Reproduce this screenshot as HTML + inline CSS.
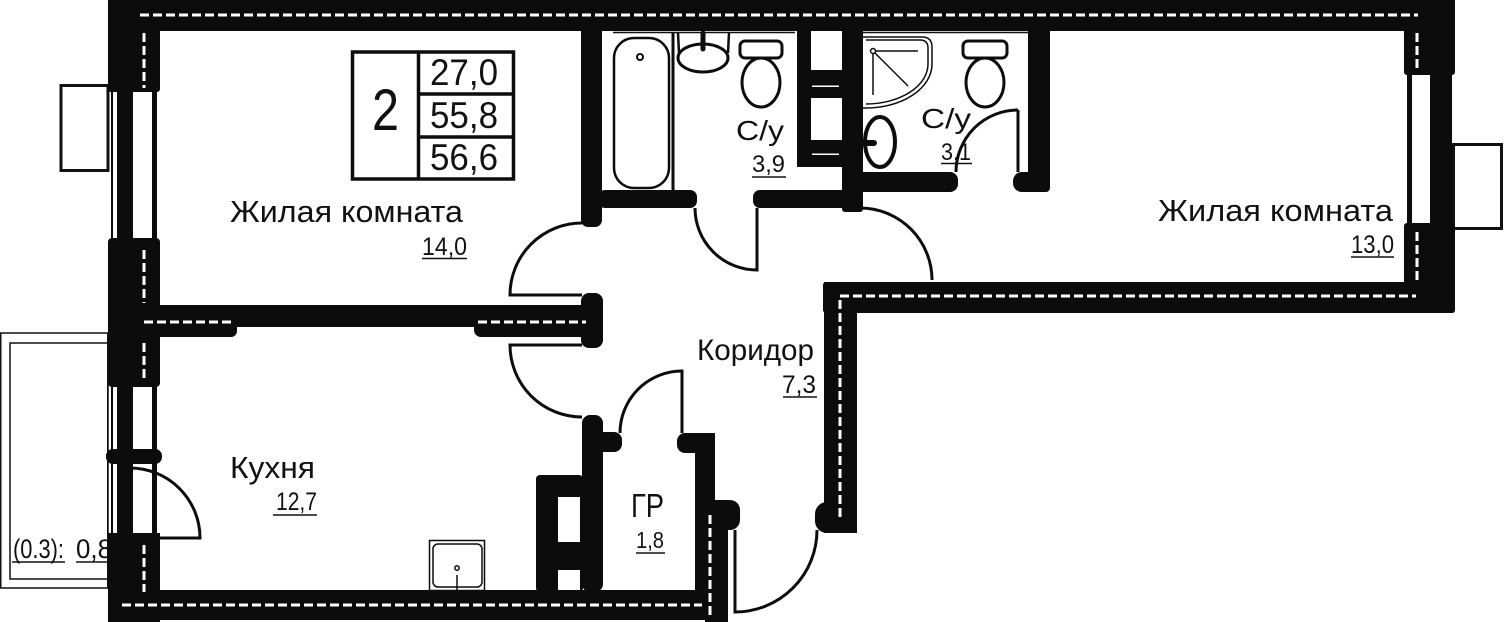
<!DOCTYPE html>
<html><head><meta charset="utf-8">
<style>
html,body{margin:0;padding:0;background:#fff;}
svg{display:block}
text{font-family:"Liberation Sans","DejaVu Sans",sans-serif;fill:#111;}
</style></head><body>
<svg width="1504" height="622" viewBox="0 0 1504 622" xmlns="http://www.w3.org/2000/svg">
<rect width="1504" height="622" fill="#fff"/>

<!-- balcony -->
<g fill="none" stroke="#111" stroke-width="1.5">
<rect x="0.75" y="333" width="107" height="255"/>
<rect x="10" y="343" width="98" height="236"/>
</g>
<!-- window sills -->
<g fill="none" stroke="#111" stroke-width="3">
<rect x="61" y="85.5" width="47" height="85"/>
<rect x="1453.5" y="144.5" width="48" height="84"/>
</g>

<!-- texts (drawn under walls) -->
<g>
<text x="13" y="558" font-size="27" textLength="51" lengthAdjust="spacingAndGlyphs">(0.3):</text>
<text x="76" y="558" font-size="27" textLength="36" lengthAdjust="spacingAndGlyphs">0,8</text>
</g>
<g stroke="#111" stroke-width="1.5">
<line x1="12" y1="562" x2="65" y2="562"/>
<line x1="76" y1="562" x2="108" y2="562"/>
</g>

<!-- walls -->
<g fill="#0c0c0c">
<!-- top wall -->
<rect x="108" y="0" width="1347" height="31"/>
<!-- left wall -->
<rect x="108" y="0" width="52" height="92" rx="3"/>
<rect x="108" y="238" width="52" height="149" rx="4"/>
<rect x="108" y="533" width="52" height="89"/>
<rect x="106" y="449" width="56" height="15" rx="7"/>
<!-- left window frames -->
<rect x="111" y="92" width="2" height="146"/>
<rect x="117" y="92" width="16" height="146"/>
<rect x="152" y="92" width="5" height="146"/>
<rect x="111" y="387" width="2" height="146"/>
<rect x="117" y="387" width="16" height="146"/>
<rect x="152" y="387" width="5" height="146"/>
<!-- bottom wall -->
<rect x="108" y="590" width="620" height="30"/>
<!-- right wall -->
<rect x="1404" y="0" width="51" height="75" rx="3"/>
<rect x="1404" y="223" width="51" height="90" rx="3"/>
<rect x="1407" y="75" width="5" height="148"/>
<rect x="1430" y="75" width="22" height="148"/>
<!-- right room bottom wall -->
<rect x="823" y="282" width="632" height="31" rx="3"/>
<!-- corridor wall -->
<rect x="824" y="282" width="33" height="251"/>
<rect x="815" y="502" width="40" height="31" rx="12"/>
<!-- living / bath partition -->
<rect x="581" y="20" width="21" height="207" rx="7"/>
<rect x="581" y="293" width="22" height="55" rx="8"/>
<!-- living / kitchen wall -->
<rect x="155" y="305" width="430" height="22"/>
<rect x="140" y="305" width="97" height="32" rx="6"/>
<rect x="474" y="305" width="116" height="32" rx="7"/>
<!-- kitchen / GR wall -->
<rect x="582" y="415" width="21" height="177" rx="8"/>
<rect x="595" y="432" width="27" height="20" rx="8"/>
<!-- kitchen shaft -->
<rect x="536" y="475" width="47" height="117" rx="4"/>
<!-- GR right wall -->
<rect x="677" y="433" width="38" height="20" rx="8"/>
<rect x="695" y="433" width="20" height="164"/>
<rect x="705" y="500" width="35" height="30" rx="10"/>
<rect x="705" y="500" width="23" height="122"/>
<!-- bathroom bottom walls -->
<rect x="598" y="190" width="99" height="18" rx="7"/>
<rect x="753" y="190" width="110" height="18" rx="7"/>
<rect x="842" y="0" width="21" height="212" rx="3"/>
<!-- shaft between bathrooms -->
<rect x="797" y="31" width="14" height="136"/>
<rect x="797" y="70" width="46" height="28"/>
<rect x="797" y="140" width="46" height="27"/>
<!-- toilet 2 walls -->
<rect x="842" y="172" width="116" height="20" rx="8"/>
<rect x="1028" y="20" width="22" height="172" rx="4"/>
<rect x="1013" y="172" width="37" height="20" rx="9"/>
</g>

<!-- white details inside walls -->
<g fill="#fff">
<rect x="558" y="497" width="22" height="45"/>
<rect x="558" y="570" width="22" height="20"/>
<rect x="812" y="85.5" width="27" height="1.5"/>
<rect x="812" y="153.5" width="27" height="1.5"/>
</g>
<g stroke="#fff" stroke-width="3" stroke-dasharray="9 4" fill="none">
<line x1="140" y1="15" x2="1418" y2="15"/>
<line x1="144" y1="33" x2="144" y2="88"/>
<line x1="144" y1="250" x2="144" y2="303"/>
<line x1="144" y1="343" x2="144" y2="380"/>
<line x1="144" y1="545" x2="144" y2="592"/>
<line x1="1417" y1="33" x2="1417" y2="70"/>
<line x1="1417" y1="232" x2="1417" y2="280"/>
<line x1="840" y1="296" x2="1416" y2="296"/>
<line x1="840" y1="300" x2="840" y2="520"/>
<line x1="144" y1="322" x2="232" y2="322"/>
<line x1="478" y1="322" x2="586" y2="322"/>
<line x1="122" y1="605" x2="702" y2="605"/>
<line x1="710" y1="515" x2="710" y2="615"/>
</g>

<!-- thin lines below top wall -->
<g stroke="#111" stroke-width="1.5">
<line x1="613" y1="32.5" x2="795" y2="32.5"/>
<line x1="863" y1="32.5" x2="1028" y2="32.5"/>
</g>

<!-- doors -->
<g fill="none" stroke="#0c0c0c" stroke-width="3">
<path d="M582,223 A72,72 0 0 0 510,295 L582,295"/>
<path d="M582,417 A72,72 0 0 1 510,345 L582,345"/>
<path d="M695,208 A62,62 0 0 0 757,270 L757,208"/>
<path d="M1018,110 A62,62 0 0 0 956,172"/>
<path d="M1018,110 L1018,172"/>
<path d="M860,208 A72,72 0 0 1 932,280"/>
<path d="M682,433 L682,371 A62,62 0 0 0 620,433"/>
<path d="M735,530 L735,612 A82,82 0 0 0 817,530"/>
<path d="M130,468 A70,70 0 0 1 200,538 L130,538"/>
</g>

<!-- bathroom fixtures -->
<g fill="none" stroke="#0c0c0c">
<rect x="614" y="38" width="55" height="150" rx="20" stroke-width="2.5"/>
<circle cx="640" cy="57" r="3" stroke-width="2"/>
<line x1="673" y1="33" x2="673" y2="190" stroke-width="3"/>
<ellipse cx="703" cy="58" rx="25" ry="14" stroke-width="3"/>
<path d="M678,33 L679,53 M729,33 L728,53" stroke-width="2.5"/>
<line x1="703" y1="33" x2="703" y2="49" stroke-width="5" stroke-linecap="round"/>
<rect x="740" y="41" width="42" height="17" rx="5" stroke-width="3"/>
<ellipse cx="761" cy="82.5" rx="19" ry="24.5" stroke-width="3"/>
<rect x="963" y="41" width="44" height="17" rx="5" stroke-width="3"/>
<ellipse cx="985" cy="82.5" rx="19" ry="24.5" stroke-width="3"/>
<ellipse cx="880" cy="142" rx="15" ry="25" stroke-width="4"/>
<line x1="863" y1="143" x2="874" y2="143" stroke-width="6" stroke-linecap="round"/>
<path d="M863,37 H922 Q932,37 932,47 V64 A66,44 0 0 1 866,108 H863" stroke-width="1.5"/>
<path d="M866,40 H920 Q928,40 928,48 V64 A62,40 0 0 1 866,104" stroke-width="1.5"/>
<circle cx="873" cy="51" r="2.5" stroke-width="1.5"/>
<line x1="876" y1="51" x2="918" y2="51" stroke-width="1.5"/>
<line x1="873" y1="54" x2="873" y2="95" stroke-width="1.5"/>
<line x1="875" y1="53" x2="908" y2="86" stroke-width="1.5"/>
<!-- kitchen sink -->
<rect x="429.5" y="540.5" width="55" height="50" stroke-width="1.5"/>
<rect x="433" y="544" width="49" height="43" rx="5" stroke-width="1.5"/>
<circle cx="457" cy="568" r="2.2" stroke-width="1.5"/>
<line x1="457" y1="575" x2="457" y2="590" stroke-width="1.5"/>
</g>

<!-- apartment box -->
<g fill="none" stroke="#0c0c0c" stroke-width="3.5">
<rect x="352.5" y="52" width="161" height="127"/>
<line x1="418.5" y1="52" x2="418.5" y2="179"/>
<line x1="418.5" y1="94" x2="513.5" y2="94"/>
<line x1="418.5" y1="137" x2="513.5" y2="137"/>
</g>

<!-- labels -->
<g>
<text x="372" y="130" font-size="58" textLength="27" lengthAdjust="spacingAndGlyphs">2</text>
<text x="430" y="85" font-size="37" textLength="68" lengthAdjust="spacingAndGlyphs">27,0</text>
<text x="430" y="128" font-size="37" textLength="68" lengthAdjust="spacingAndGlyphs">55,8</text>
<text x="430" y="170" font-size="37" textLength="68" lengthAdjust="spacingAndGlyphs">56,6</text>
<text x="230" y="222" font-size="31" textLength="233" lengthAdjust="spacingAndGlyphs">Жилая комната</text>
<text x="422" y="255" font-size="25" textLength="45" lengthAdjust="spacingAndGlyphs">14,0</text>
<text x="1158" y="221" font-size="31" textLength="235" lengthAdjust="spacingAndGlyphs">Жилая комната</text>
<text x="1351" y="253" font-size="25" textLength="43" lengthAdjust="spacingAndGlyphs">13,0</text>
<text x="736" y="140" font-size="28" textLength="48" lengthAdjust="spacingAndGlyphs">С/у</text>
<text x="752" y="172" font-size="24" textLength="33" lengthAdjust="spacingAndGlyphs">3,9</text>
<text x="921" y="128" font-size="28" textLength="50" lengthAdjust="spacingAndGlyphs">С/у</text>
<text x="941" y="160" font-size="24" textLength="30" lengthAdjust="spacingAndGlyphs">3,1</text>
<text x="697" y="360" font-size="30" textLength="117" lengthAdjust="spacingAndGlyphs">Коридор</text>
<text x="782" y="393" font-size="25" textLength="34" lengthAdjust="spacingAndGlyphs">7,3</text>
<text x="631" y="517" font-size="33" textLength="33" lengthAdjust="spacingAndGlyphs">ГР</text>
<text x="636" y="548" font-size="23" textLength="28" lengthAdjust="spacingAndGlyphs">1,8</text>
<text x="230" y="478" font-size="31" textLength="85" lengthAdjust="spacingAndGlyphs">Кухня</text>
<text x="276" y="510" font-size="25" textLength="41" lengthAdjust="spacingAndGlyphs">12,7</text>
</g>
<g stroke="#111" stroke-width="1.5">
<line x1="422" y1="258.5" x2="467" y2="258.5"/>
<line x1="1351" y1="257" x2="1394" y2="257"/>
<line x1="752" y1="177" x2="786" y2="177"/>
<line x1="941" y1="163.5" x2="972" y2="163.5"/>
<line x1="783" y1="397" x2="817" y2="397"/>
<line x1="636" y1="553" x2="665" y2="553"/>
<line x1="273" y1="515" x2="317" y2="515"/>
</g>
</svg>
</body></html>
